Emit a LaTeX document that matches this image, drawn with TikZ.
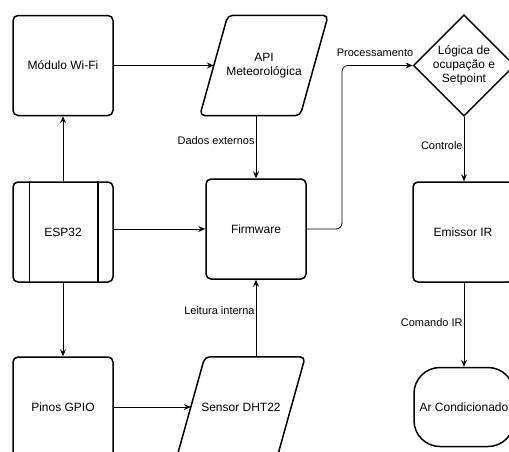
\documentclass[tikz,border=0pt]{standalone}
\usepackage{fontspec}
\setmainfont{Liberation Sans}
\usetikzlibrary{shapes.geometric,arrows.meta,calc}
\begin{document}
\begin{tikzpicture}[x=1pt,y=-1pt,
  border/.style={line width=1.5pt, rounded corners=5pt},
  box/.style={draw, border, minimum width=100pt, minimum height=100pt, align=center, font=\fontsize{12}{14}\selectfont},
  txt/.style={minimum width=100pt, minimum height=100pt, align=center, font=\fontsize{12}{14}\selectfont},
  conn/.style={line width=0.8pt, -{Stealth[length=7pt,width=6pt,inset=2.5pt]}},
  lbl/.style={font=\fontsize{11}{13}\selectfont, inner sep=1pt}]
\useasboundingbox (0,0) rectangle (509,451);
\clip (0,0) rectangle (509,451);

% nodes
\node[box] (wifi) at (63,65.5) {Módulo Wi-Fi};
\node[txt] (api) at (264,65.5) {API\\Meteorológica};
\draw[border] ($(api.south west)+(-14,0)$) -- ($(api.south east)+(-14,0)$) -- ($(api.north east)+(14,0)$) -- ($(api.north west)+(14,0)$) -- cycle;
\node[box] (esp) at (63,232) {ESP32};
\draw[line width=1.5pt] ($(esp.north west)+(17,0)$) -- ($(esp.south west)+(17,0)$);
\draw[line width=1.5pt] ($(esp.north east)+(-16,0)$) -- ($(esp.south east)+(-16,0)$);
\node[box] (fw) at (256,229) {Firmware};
\node[box] (gpio) at (63,407) {Pinos GPIO};
\node[txt] (dht) at (241,407) {Sensor DHT22};
\draw[border] ($(dht.south west)+(-14,0)$) -- ($(dht.south east)+(-14,0)$) -- ($(dht.north east)+(14,0)$) -- ($(dht.north west)+(14,0)$) -- cycle;
\node[draw, diamond, line width=1.5pt, minimum width=99pt, minimum height=100pt, inner sep=0pt, align=center, font=\fontsize{12}{14}\selectfont] (logic) at (464,65.5) {Lógica de\\ocupação e\\Setpoint};
\node[box] (ir) at (463,232) {Emissor IR};
\node[box, minimum height=79pt, rounded corners=26pt] (ac) at (464,407) {Ar Condicionado};

% connectors
\draw[conn] (wifi.east) -- (api.west);
\draw[conn] (esp.north) -- (wifi.south);
\draw[conn] (esp.south) -- (gpio.north);
\draw[conn] (esp.east |- fw.west) -- (fw.west);
\draw[conn] (gpio.east) -- (dht.west);
\draw[conn] (fw.north |- api.south) -- node[lbl, left, pos=0.4] {Dados externos} (fw.north);
\draw[conn] (fw.south |- dht.north) -- node[lbl, left, pos=0.6] {Leitura interna} (fw.south);
\coordinate (bend) at (342,0);
\draw[conn, rounded corners=6pt] (fw.east) -- (bend |- fw.east) -- (bend |- logic.west) -- (logic.west);
\node[lbl] (proc) at (375,53) {Processamento};
\draw[conn] (logic.south) -- node[lbl, left, pos=0.45] {Controle} (logic.south |- ir.north);
\draw[conn] (ir.south -| ac.north) -- node[lbl, left, pos=0.47] {Comando IR} (ac.north);
\end{tikzpicture}
\end{document}
